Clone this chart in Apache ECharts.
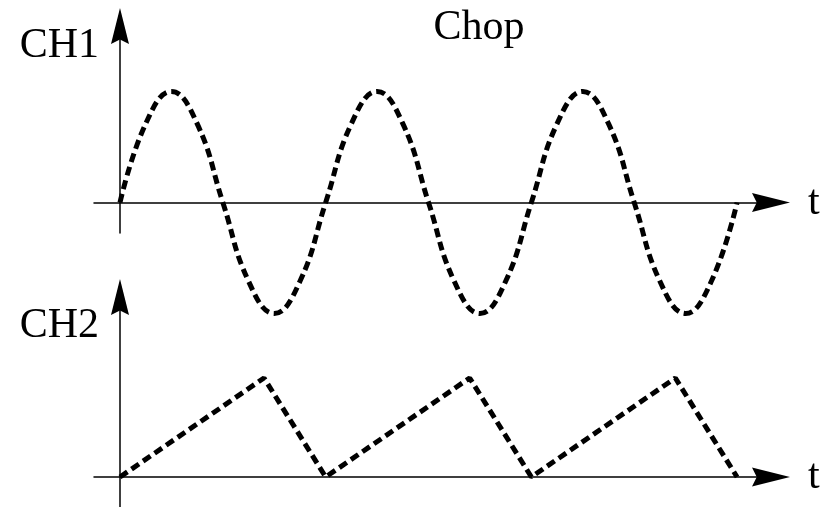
<!DOCTYPE html>
<html>
<head>
<meta charset="utf-8">
<script src="https://cdn.jsdelivr.net/npm/echarts@6/dist/echarts.min.js"></script>
<style>
  html, body { margin: 0; padding: 0; background: #fff; }
  #main { width: 831px; height: 507px; }
</style>
</head>
<body>
<div id="main"></div>
<script>
// CH1: sine, sampled every 1/8 period (period = 10 time units)
var ch1T = [0, 1.25, 2.5, 3.75, 5, 6.25, 7.5, 8.75, 10, 11.25, 12.5, 13.75, 15,
            16.25, 17.5, 18.75, 20, 21.25, 22.5, 23.75, 25, 26.25, 27.5, 28.75, 30];
var ch1V = [0, 0.71, 1, 0.71, 0, -0.71, -1, -0.71, 0, 0.71, 1, 0.71, 0,
            -0.71, -1, -0.71, 0, 0.71, 1, 0.71, 0, -0.71, -1, -0.71, 0];
// CH2: sawtooth (slow rise, fast fall)
var ch2T = [0, 7, 10, 17, 20, 27, 30];
var ch2V = [0, 1, 0, 1, 0, 1, 0];

var axisNames = ['CH1', 'CH2'];
var timeName = 't';

function pairs(xs, ys) {
  return xs.map(function (x, i) { return [x, ys[i]]; });
}

var font = 'Liberation Serif, Times New Roman, serif';
var black = '#000';
// filled arrow head with a shallow notch
var arrowHead = 'path://M5,0 L10,20 L5,17.5 L0,20 Z';

var myChart = echarts.init(document.getElementById('main'));

var xAxisBase = {
  type: 'value',
  min: -1.264,
  max: 31.65,
  name: timeName,
  nameLocation: 'end',
  nameGap: 37,
  nameTextStyle: { fontFamily: font, fontSize: 42, color: black, verticalAlign: 'middle' },
  axisLine: {
    onZero: true,
    symbol: ['none', arrowHead],
    symbolSize: [19, 38],
    lineStyle: { color: black, width: 1.5 }
  },
  axisTick: { show: false },
  axisLabel: { show: false },
  splitLine: { show: false }
};

function yAxisFor(idx, min, max, gap) {
  return {
    gridIndex: idx, type: 'value', min: min, max: max,
    name: axisNames[idx], nameLocation: 'end', nameGap: gap,
    nameTextStyle: { fontFamily: font, fontSize: 42, color: black,
                     align: 'right', verticalAlign: 'top', padding: [0, 21, 0, 0] },
    axisLine: { onZero: true, symbol: ['none', arrowHead], symbolSize: [18, 38],
                lineStyle: { color: black, width: 1.5 } },
    axisTick: { show: false }, axisLabel: { show: false }, splitLine: { show: false }
  };
}

var option = {
  animation: false,
  backgroundColor: '#fff',
  title: {
    text: 'Chop',
    left: 474,
    top: 2,
    textAlign: 'center',
    textStyle: { fontFamily: font, fontSize: 42, fontWeight: 'normal', color: black }
  },
  grid: [
    { left: 94, right: 60, top: 26, height: 207 },
    { left: 94, right: 60, top: 297, height: 210 }
  ],
  xAxis: [
    Object.assign({ gridIndex: 0 }, xAxisBase),
    Object.assign({ gridIndex: 1 }, xAxisBase)
  ],
  yAxis: [
    yAxisFor(0, -0.275, 1.59, 1),
    yAxisFor(1, -0.303, 1.818, -8)
  ],
  series: [
    {
      name: axisNames[0], type: 'line', xAxisIndex: 0, yAxisIndex: 0,
      data: pairs(ch1T, ch1V),
      smooth: 0.45, showSymbol: false, clip: false,
      lineStyle: { color: black, width: 5, type: [9, 5] }
    },
    {
      name: axisNames[1], type: 'line', xAxisIndex: 1, yAxisIndex: 1,
      data: pairs(ch2T, ch2V),
      showSymbol: false, clip: false,
      lineStyle: { color: black, width: 5, type: [9, 5] }
    }
  ]
};

myChart.setOption(option);
</script>
</body>
</html>
